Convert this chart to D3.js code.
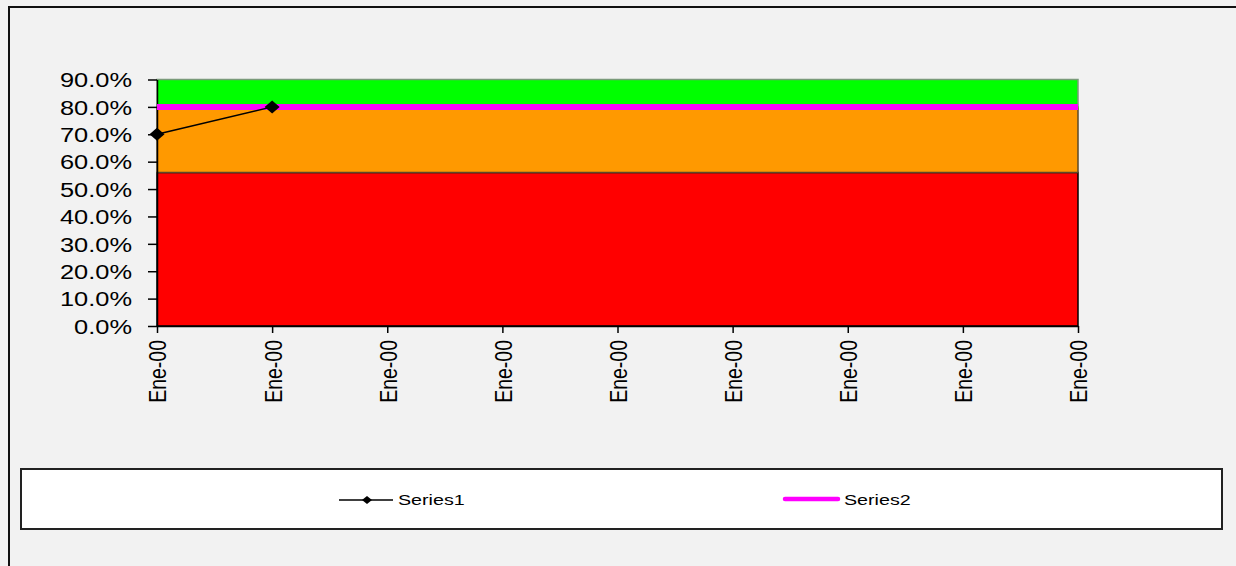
<!DOCTYPE html>
<html>
<head>
<meta charset="utf-8">
<script src="https://cdn.jsdelivr.net/npm/d3@7"></script>
<style>
  html, body { margin: 0; padding: 0; background: #f2f2f2; overflow: hidden; }
  svg { display: block; overflow: hidden; }
  text { font-family: "Liberation Sans", Arial, sans-serif; fill: #000; }
</style>
</head>
<body>
<svg id="chart" width="1236" height="566"></svg>
<script>
// Category labels along the x axis
const categories = ["Ene-00", "Ene-00", "Ene-00", "Ene-00", "Ene-00", "Ene-00", "Ene-00", "Ene-00", "Ene-00"];
// Background bands (stacked): red, orange, green thickness
const redBand    = [0.56, 0.56, 0.56, 0.56, 0.56, 0.56, 0.56, 0.56, 0.56];
const orangeBand = [0.24, 0.24, 0.24, 0.24, 0.24, 0.24, 0.24, 0.24, 0.24];
const greenBand  = [0.10, 0.10, 0.10, 0.10, 0.10, 0.10, 0.10, 0.10, 0.10];
// Line series
const series1 = [0.70, 0.80, null, null, null, null, null, null, null];
const series2 = [0.80, 0.80, 0.80, 0.80, 0.80, 0.80, 0.80, 0.80, 0.80];
// Y tick values
const yTicks = [0, 0.1, 0.2, 0.3, 0.4, 0.5, 0.6, 0.7, 0.8, 0.9];

const SX = 1.27; // horizontal text stretch
const svg = d3.select("#chart");

// Outer frame: left and top edges
svg.append("path").attr("d", "M9,566V7H1236")
  .attr("fill", "none").attr("stroke", "#111").attr("stroke-width", 2);

const idx = categories.map((d, i) => i);
const x = d3.scalePoint().domain(idx).range([157, 1078]);
const y = d3.scaleLinear().domain([0, 0.9]).range([326, 79.5]);

// Stacked bands
const rows = idx.map(i => ({ i, red: redBand[i], orange: orangeBand[i], green: greenBand[i] }));
const stack = d3.stack().keys(["red", "orange", "green"])(rows);
const bandFill = { red: "#ff0000", orange: "#ff9900", green: "#00ff00" };
const bandStroke = { red: "#000", orange: "#5a4a2a", green: "#7a9a7a" };
const area = d3.area().x(d => x(d.data.i)).y0(d => y(d[0])).y1(d => y(d[1]));
svg.append("g").selectAll("path").data(stack).join("path")
  .attr("d", area)
  .attr("fill", s => bandFill[s.key])
  .attr("stroke", s => bandStroke[s.key])
  .attr("stroke-width", 1.5);

// Axes
const yAxis = svg.append("g").attr("transform", "translate(157,0)")
  .call(d3.axisLeft(y).tickValues(yTicks).tickFormat(d3.format(".1%")).tickSize(9).tickSizeOuter(0));
yAxis.select(".domain").attr("stroke", "#000").attr("stroke-width", 1.5);
yAxis.selectAll(".tick line").attr("stroke", "#000").attr("stroke-width", 1.5);
yAxis.selectAll(".tick text")
  .attr("font-size", 20).attr("x", -25 / SX).attr("dy", "0.36em")
  .attr("transform", `scale(${SX},1)`);

const xAxis = svg.append("g").attr("transform", "translate(0,326)")
  .call(d3.axisBottom(x).tickFormat(i => categories[i]).tickSize(7).tickSizeOuter(0));
xAxis.select(".domain").attr("stroke", "#000").attr("stroke-width", 1.5);
xAxis.selectAll(".tick line").attr("stroke", "#000").attr("stroke-width", 1.5);
xAxis.selectAll(".tick text")
  .attr("font-size", 19.5).attr("text-anchor", "end")
  .attr("x", -14).attr("y", 0).attr("dy", "0.36em")
  .attr("transform", `scale(${SX},1) rotate(-90)`);

// Series2: magenta target line
const line = d3.line().defined(d => d != null).x((d, i) => x(i)).y(d => y(d));
svg.append("path").datum(series2).attr("d", line)
  .attr("fill", "none").attr("stroke", "#ff00ff").attr("stroke-width", 6);

// Series1: black line with diamond markers
svg.append("path").datum(series1).attr("d", line)
  .attr("fill", "none").attr("stroke", "#000").attr("stroke-width", 1.5);
const diamond = "M0,-6.5L7.5,0L0,6.5L-7.5,0Z";
svg.append("g").selectAll("path")
  .data(series1.map((v, i) => ({ v, i })).filter(d => d.v != null))
  .join("path")
  .attr("d", diamond)
  .attr("transform", d => `translate(${x(d.i)},${y(d.v)})`)
  .attr("fill", "#000");

// Legend
const lg = svg.append("g");
lg.append("rect").attr("x", 21).attr("y", 469).attr("width", 1201).attr("height", 60)
  .attr("fill", "#fff").attr("stroke", "#222").attr("stroke-width", 2);
lg.append("line").attr("x1", 339).attr("x2", 393).attr("y1", 500).attr("y2", 500)
  .attr("stroke", "#000").attr("stroke-width", 1.5);
lg.append("path").attr("d", "M0,-4L5,0L0,4L-5,0Z").attr("transform", "translate(367,500)").attr("fill", "#000");
lg.append("text").attr("x", 398 / SX).attr("y", 505).attr("font-size", 15.5)
  .attr("transform", `scale(${SX},1)`).text("Series1");
lg.append("line").attr("x1", 785).attr("x2", 838).attr("y1", 499).attr("y2", 499)
  .attr("stroke", "#ff00ff").attr("stroke-width", 4.5).attr("stroke-linecap", "round");
lg.append("text").attr("x", 844 / SX).attr("y", 505).attr("font-size", 15.5)
  .attr("transform", `scale(${SX},1)`).text("Series2");
</script>
</body>
</html>
